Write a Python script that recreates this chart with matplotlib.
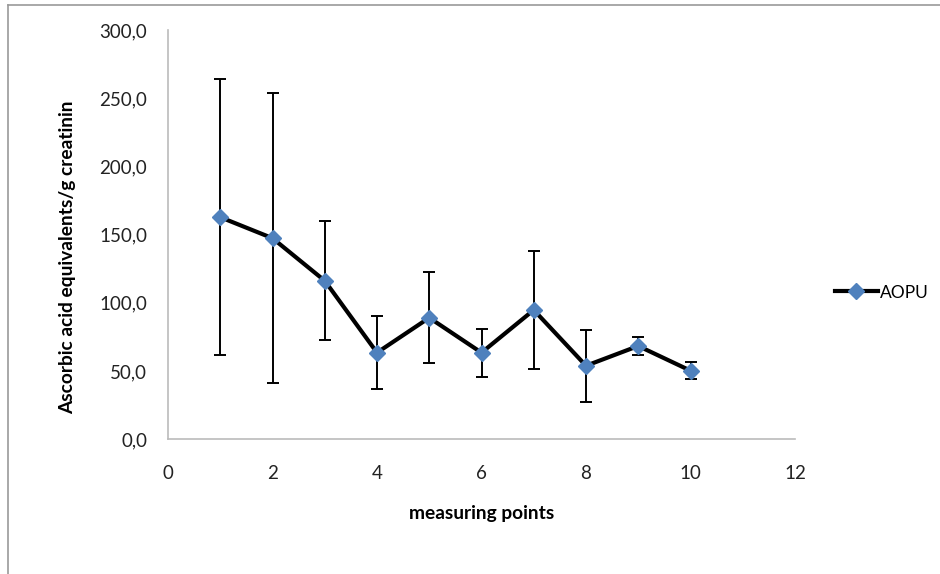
import matplotlib
matplotlib.use("Agg")
import matplotlib.pyplot as plt
from matplotlib.ticker import FuncFormatter
from matplotlib.lines import Line2D

plt.rcParams['font.family'] = ['Lato', 'DejaVu Sans']

x = [1, 2, 3, 4, 5, 6, 7, 8, 9, 10]
aopu = [162.8, 147.4, 116.2, 63.5, 89.1, 63.5, 94.8, 53.9, 68.4, 50.3]
err = [101.2, 106.5, 43.6, 26.6, 33.5, 17.7, 43.4, 26.2, 6.4, 6.0]
series_name = "AOPU"
x_label = "measuring points"
y_label = "Ascorbic acid equivalents/g creatinin"
x_ticks = [0, 2, 4, 6, 8, 10, 12]
y_ticks = [0, 50, 100, 150, 200, 250, 300]

W, H = 940, 574
fig = plt.figure(figsize=(W/100, H/100), dpi=100)
L, R, B, T = 168, 795, 439.3, 30
ax = fig.add_axes([L/W, 1-B/H, (R-L)/W, (B-T)/H])

ax.errorbar(x, aopu, yerr=err, fmt='none', ecolor='black', elinewidth=1.4,
            capsize=4.5, capthick=1.4, zorder=2)
ax.plot(x, aopu, color='black', lw=3, marker='D', markersize=8,
        markerfacecolor='#4F81BD', markeredgecolor='#4F81BD', zorder=3)

ax.set_xlim(0, 12)
ax.set_ylim(0, 300)
ax.set_xticks(x_ticks)
ax.set_yticks(y_ticks)
ax.yaxis.set_major_formatter(FuncFormatter(lambda v, p: f"{v:.1f}".replace('.', ',')))
ax.tick_params(length=0, labelsize=13.5, colors='#222222')
ax.tick_params(axis='y', pad=15)
ax.tick_params(axis='x', pad=18.5)
for s in ['top', 'right']:
    ax.spines[s].set_visible(False)
for s in ['left', 'bottom']:
    ax.spines[s].set_color('#BBBBBB')
    ax.spines[s].set_linewidth(1.2)

ax.set_xlabel(x_label, fontsize=13.8, fontweight='bold', va='center')
ax.xaxis.set_label_coords(0.5, -(514 - B)/(B - T))
ax.set_ylabel(y_label, fontsize=13.8, fontweight='bold', va='center')
ax.yaxis.set_label_coords(-(L - 68)/(R - L), (B - 257)/(B - T))

handle = Line2D([], [], color='black', lw=3, marker='D', markersize=8,
                markerfacecolor='#4F81BD', markeredgecolor='#4F81BD')
fig.legend([handle], [series_name], loc='center left', bbox_to_anchor=(835/W, 1-292.5/H),
           frameon=False, fontsize=12.5, handlelength=2.47, handletextpad=0.12,
           borderpad=0, borderaxespad=0)

fig.add_artist(Line2D([8/W, 8/W], [0, 1-5/H], color='#999999', lw=1.2))
fig.add_artist(Line2D([8/W, 1], [1-5/H, 1-5/H], color='#999999', lw=1.2))

fig.savefig("out.png", dpi=100)
